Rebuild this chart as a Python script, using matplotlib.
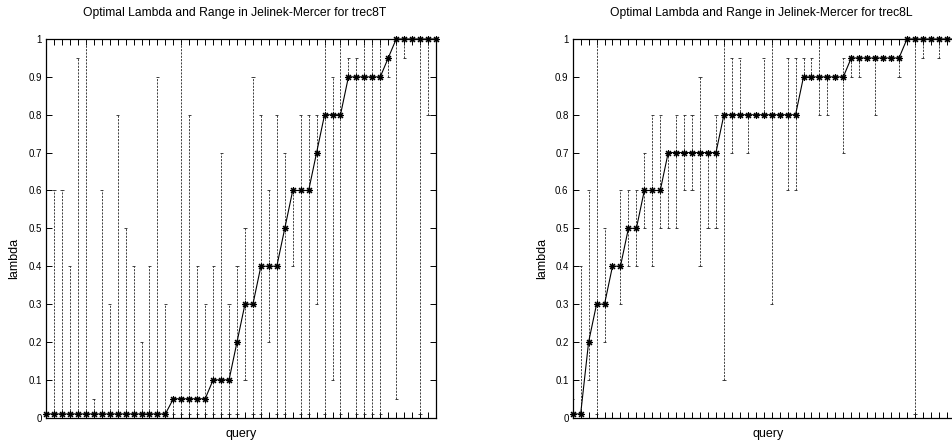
#!/usr/bin/env python
# -*- coding: utf-8 -*-
"""
Optimal lambda and its range per query (Jelinek-Mercer), trec8T vs trec8L
"""

import numpy as np
import matplotlib
matplotlib.use('Agg')
import matplotlib.pyplot as plt

plt.rcParams['font.family'] = ['Liberation Sans', 'DejaVu Sans']

# queries, sorted by optimal lambda
queries = list(range(50))

# trec8T
t_opt = [0.01] * 16 + [0.05] * 5 + [0.1] * 3 + [0.2, 0.3, 0.3, 0.4, 0.4, 0.4, 0.5,
         0.6, 0.6, 0.6, 0.7, 0.8, 0.8, 0.8, 0.9, 0.9, 0.9, 0.9, 0.9, 0.95,
         1.0, 1.0, 1.0, 1.0, 1.0, 1.0]
t_low = [0.01] * 25
t_low[25:] = [0.1, 0.01, 0.01, 0.2, 0.01, 0.01, 0.4, 0.01, 0.01, 0.3, 0.01, 0.1, 0.01,
              0.9, 0.01, 0.01, 0.01, 0.01, 0.9, 0.05, 0.95, 1.0, 0.01, 0.8, 1.0]
t_high = [0.01, 0.6, 0.6, 0.4, 0.95, 1.0, 0.05, 0.6, 0.3, 0.8, 0.5, 0.4, 0.2, 0.4, 0.9, 0.3,
          0.05, 1.0, 0.8, 0.4, 0.3, 0.4, 0.7, 0.3, 0.4, 0.5, 0.9, 0.8, 0.6, 0.8, 0.7,
          0.6, 0.8, 0.8, 0.8, 1.0, 0.9, 1.0, 0.95, 0.95, 1.0, 1.0, 1.0, 0.95,
          1.0, 1.0, 1.0, 1.0, 1.0, 1.0]

# trec8L
l_opt = [0.01, 0.01, 0.2, 0.3, 0.3, 0.4, 0.4, 0.5, 0.5, 0.6, 0.6, 0.6] + [0.7] * 7 + \
        [0.8] * 10 + [0.9] * 6 + [0.95] * 7 + [1.0] * 8
l_low = [0.01, 0.01, 0.1, 0.01, 0.2, 0.4, 0.3, 0.4, 0.4, 0.5, 0.4, 0.5, 0.5, 0.5, 0.6, 0.6,
         0.4, 0.5, 0.5, 0.1, 0.7, 0.8, 0.7, 0.8, 0.8, 0.3, 0.8, 0.6, 0.6, 0.9, 0.9, 0.8,
         0.8, 0.9, 0.7, 0.9, 0.9, 0.95, 0.8, 0.95, 0.95, 0.9, 1.0, 0.01, 0.95, 1.0, 0.95,
         1.0, 1.0, 1.0]
l_high = [0.05, 0.4, 0.6, 1.0, 0.5, 0.4, 0.6, 0.6, 0.6, 0.7, 0.8, 0.8, 0.7, 0.8, 0.8, 0.8,
          0.9, 0.7, 0.8, 1.0, 0.95, 0.95, 0.8, 0.8, 0.95, 1.0, 0.8, 0.95, 0.95, 0.95, 0.95,
          1.0, 0.9, 0.9, 0.95, 0.95, 0.95, 0.95, 0.95, 0.95, 0.95, 0.95, 1.0, 1.0, 1.0,
          1.0, 1.0, 1.0, 1.0, 1.0]

y_ticks = [0, 0.1, 0.2, 0.3, 0.4, 0.5, 0.6, 0.7, 0.8, 0.9, 1]
y_labels = ['0', '0.1', '0.2', '0.3', '0.4', '0.5', '0.6', '0.7', '0.8', '0.9', '1']


def draw_panel(ax, opt, low, high):
    q = np.array(queries)
    # range of good lambdas: dashed bar with small caps
    ax.vlines(q, low, high, colors='#222222', linestyles=(0, (2.5, 1.5)), linewidth=0.6)
    ax.hlines(low, q - 0.2, q + 0.2, colors='#222222', linewidth=0.6)
    ax.hlines(high, q - 0.2, q + 0.2, colors='#222222', linewidth=0.6)
    # optimal lambda
    ax.plot(q, opt, color='black', linewidth=0.8, marker=(8, 2, 0), markersize=5,
            markeredgewidth=0.8, clip_on=False)

    ax.set_xlim(0, 49)
    ax.set_ylim(0, 1)
    ax.set_xticks(q)
    ax.set_xticklabels([])
    ax.set_yticks(y_ticks)
    ax.set_yticklabels(y_labels)
    ax.tick_params(direction='in', length=4, width=0.7, top=True, right=True,
                   labelsize=7, pad=3)
    for s in ax.spines.values():
        s.set_linewidth(0.9)


fig = plt.figure(figsize=(9.52, 4.43), dpi=100)
W, H = 952.0, 443.0

panels = [
    (46.0, t_opt, t_low, t_high, 'Optimal Lambda and Range in Jelinek-Mercer for trec8T', 14.0),
    (572.7, l_opt, l_low, l_high, 'Optimal Lambda and Range in Jelinek-Mercer for trec8L', 542.0),
]
for left, opt, low, high, title, ylab_x in panels:
    ax = fig.add_axes([left / W, 25.3 / H, 390 / W, 378.7 / H])
    draw_panel(ax, opt, low, high)
    cx = left + 195
    fig.text((cx - 6) / W, 1 - 13 / H, title, ha='center', va='center', fontsize=8.7)
    fig.text(cx / W, 1 - 434 / H, 'query', ha='center', va='center', fontsize=9)
    fig.text(ylab_x / W, 1 - 258 / H, 'lambda', ha='center', va='center',
             rotation=90, fontsize=9)

plt.savefig('out.png', dpi=100)
plt.close()
